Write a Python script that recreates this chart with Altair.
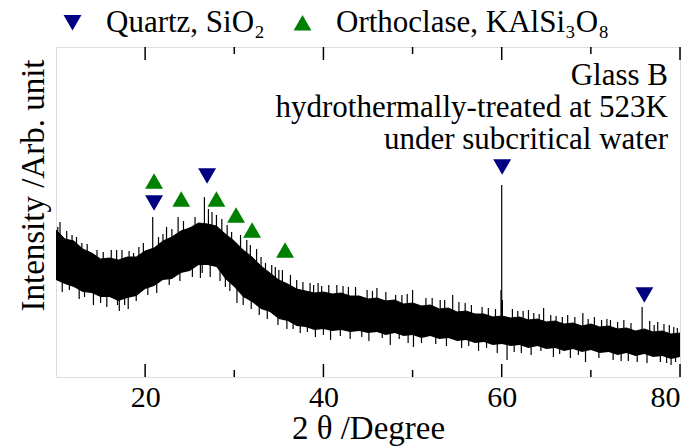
import altair as alt
import pandas as pd

FONT = "serif"

# ---- data (intensity in arbitrary units) ----
two_theta = [10, 11, 12, 13, 14, 15, 16, 17, 18, 19, 20, 21, 22, 23, 24, 25, 26, 27, 28, 29,
             30, 31, 32, 33, 34, 35, 36, 37, 38, 39, 40, 41, 42, 43, 44, 45, 46, 47, 48, 49,
             50, 51, 52, 53, 54, 55, 56, 57, 58, 59, 60, 61, 62, 63, 64, 65, 66, 67, 68, 69,
             70, 71, 72, 73, 74, 75, 76, 77, 78, 79, 80]
band_upper = [147, 138, 136, 128, 124, 118, 119, 117, 120, 120, 126, 129, 136, 140, 146, 149, 154, 153, 151, 143,
              136, 127, 120, 111, 104, 97, 93, 88, 86, 84, 85, 83, 84, 81, 81, 78, 79, 76, 77, 73,
              74, 71, 72, 68, 69, 65, 66, 63, 63, 60, 61, 59, 60, 57, 58, 55, 56, 53, 54, 51,
              53, 50, 51, 48, 49, 46, 48, 45, 46, 43, 44]
band_lower = [97, 93, 90, 85, 84, 80, 80, 76, 79, 81, 88, 91, 97, 98, 104, 106, 112, 112, 110, 98,
              90, 80, 75, 68, 65, 58, 56, 51, 50, 47, 48, 46, 47, 45, 46, 44, 45, 42, 44, 41,
              42, 39, 41, 38, 39, 36, 37, 34, 35, 32, 33, 31, 32, 29, 31, 28, 29, 26, 28, 25,
              27, 24, 25, 22, 24, 21, 23, 20, 21, 18, 20]

# spikes sticking out above the band: position, foot, tip
up_x = [10.2, 10.45, 11.2, 11.8, 12.3, 12.9, 13.5, 14.6, 15.3, 16.2, 16.8, 17.4, 18.2, 18.7, 19.3, 19.8,
        20.85, 21.5, 22.0, 22.4, 23.0, 23.7, 24.3, 25.05, 25.6, 26.65, 27.1, 27.5, 28.0, 28.6, 29.2, 29.7,
        30.7, 31.4, 31.8, 32.5, 33.0, 33.5, 34.2, 34.6, 35.0, 35.4, 36.3, 37.0, 37.7, 38.5, 38.9, 39.4, 39.8,
        40.6, 41.5, 42.2, 42.8, 43.6, 44.9, 45.5, 46.0, 47.0, 48.1, 48.8, 49.4, 50.0, 51.5, 52.2, 53.1, 53.6,
        54.5, 55.2, 55.9, 56.6, 57.8, 58.5, 59.3, 59.92, 60.0, 60.08, 61.2, 61.8, 62.4, 63.0, 63.6, 64.2, 64.7,
        65.5, 66.1, 66.8, 67.4, 68.2, 69.1, 69.7, 70.4, 71.2, 71.8, 72.2, 73.0, 73.7, 74.5, 75.75, 76.6, 77.1,
        77.5, 78.2, 78.8, 79.3, 79.7]
up_foot = [115, 120, 112, 115, 108, 110, 104, 100, 98, 98, 95, 95, 98, 95, 100, 104,
           100, 110, 113, 115, 118, 120, 125, 125, 130, 130, 132, 130, 130, 125, 120, 110,
           105, 100, 95, 95, 90, 85, 85, 80, 75, 75, 72, 70, 68, 65, 65, 65, 65,
           64, 65, 64, 63, 62, 62, 61, 60, 58, 58, 57, 57, 56, 55, 54, 54, 53,
           52, 50, 50, 49, 47, 46, 45, 40, 40, 40, 44, 45, 43, 44, 42, 42, 43,
           40, 40, 39, 40, 38, 38, 37, 37, 36, 36, 36, 35, 35, 34, 34, 33, 33,
           33, 32, 31, 31, 31]
up_tip = [150, 155, 146, 142, 140, 134, 133, 127, 125, 127, 127, 127, 126, 124, 130, 134,
          160, 140, 143, 150, 148, 160, 156, 150, 160, 180, 168, 165, 162, 158, 152, 145,
          142, 137, 132, 128, 120, 114, 112, 110, 107, 107, 102, 97, 95, 94, 92, 94, 91,
          92, 92, 91, 90, 90, 87, 86, 89, 85, 82, 82, 83, 87, 79, 79, 77, 77,
          82, 75, 74, 72, 70, 69, 68, 87, 192, 77, 68, 66, 66, 67, 64, 63, 69,
          62, 61, 60, 62, 60, 64, 58, 60, 57, 58, 57, 55, 57, 54, 70, 56, 52,
          55, 53, 52, 50, 49]

# spikes reaching below the band: position, tip, foot
down_x = [10.7, 11.5, 12.6, 13.2, 14.2, 15.0, 15.7, 16.9, 17.1, 17.7, 18.1, 19.0, 20.3, 21.3, 22.7, 23.9,
          25.3, 26.2, 26.4, 27.3, 28.4, 29.0, 29.5, 30.3, 31.0, 31.9, 32.8, 33.7, 34.9, 35.9, 36.6, 37.4,
          38.2, 39.1, 40.0, 40.8, 41.9, 43.0, 44.3, 45.1, 46.6, 47.5, 48.5, 49.5, 50.1, 51.0, 52.6, 53.8,
          55.5, 56.3, 57.4, 58.3, 59.5, 60.6, 61.4, 62.2, 63.3, 64.4, 65.8, 66.5, 67.7, 68.6, 69.4, 70.9,
          72.5, 73.4, 74.2, 75.2, 76.3, 77.8, 78.5, 79.0, 79.5]
down_tip = [85, 87, 78, 80, 72, 74, 70, 72, 66, 72, 68, 76, 82, 84, 92, 96,
            100, 99, 104, 100, 96, 90, 86, 74, 72, 68, 62, 58, 52, 48, 48, 44,
            45, 40, 42, 37, 41, 38, 40, 36, 39, 32, 38, 34, 30, 34, 33, 31,
            29, 31, 26, 29, 24, 17, 25, 24, 22, 26, 20, 23, 19, 22, 15, 19,
            17, 16, 16, 15, 14, 15, 14, 12, 15]
down_foot = [115, 112, 108, 104, 100, 98, 100, 97, 96, 98, 98, 100, 105, 110, 115, 120,
             125, 130, 130, 130, 128, 120, 115, 110, 100, 95, 90, 85, 80, 75, 72, 70,
             68, 65, 65, 64, 64, 63, 62, 61, 60, 60, 58, 57, 56, 55, 54, 53,
             50, 50, 48, 47, 46, 45, 45, 44, 43, 42, 40, 40, 39, 38, 37, 37,
             36, 35, 34, 34, 33, 33, 32, 31, 31]

quartz_x = [21.0, 26.95, 60.05, 76.0]
quartz_y = [174, 201, 210, 82]
orthoclase_x = [21.0, 24.05, 28.0, 30.2, 32.0, 35.7]
orthoclase_y = [196, 178, 178, 162, 147, 127]

quartz_label = "Quartz, SiO\u2082"
orthoclase_label = "Orthoclase, KAlSi\u2083O\u2088"

major_ticks = [20, 40, 60, 80]
minor_ticks = [30, 50, 70]

note_lines = ["Glass B", "hydrothermally-treated at 523K", "under subcritical water"]

# ---- tables ----
band_df = pd.DataFrame({"x": two_theta, "hi": band_upper, "lo": band_lower})
spike_df = pd.DataFrame({
    "x": up_x + down_x,
    "lo": up_foot + down_tip,
    "hi": up_tip + down_foot,
})
marker_df = pd.DataFrame({
    "x": quartz_x + orthoclase_x,
    "y": quartz_y + orthoclase_y,
    "mineral": [quartz_label] * len(quartz_x) + [orthoclase_label] * len(orthoclase_x),
})
major_df = pd.DataFrame({"t": major_ticks})
minor_df = pd.DataFrame({"t": minor_ticks})

W, H = 624, 330
xscale = alt.Scale(domain=[10, 80], nice=False, zero=False)
yscale = alt.Scale(domain=[0, 330], nice=False, zero=False)

x_axis = alt.Axis(
    values=major_ticks, format="d", ticks=False, domain=False, grid=False,
    labelFont=FONT, labelFontSize=30, labelColor="black", labelPadding=5,
    title="2 \u03b8 /Degree", titleFont=FONT, titleFontSize=33, titleFontWeight="normal",
    titleColor="black", titlePadding=0)
y_axis = alt.Axis(
    labels=False, ticks=False, domain=False, grid=False,
    title="Intensity /Arb. unit", titleFont=FONT, titleFontSize=33, titleFontWeight="normal",
    titleColor="black", titlePadding=6, titleY=138)

band = alt.Chart(band_df).mark_area(color="black", opacity=1, line={"color": "black", "strokeWidth": 1}).encode(
    x=alt.X("x:Q", scale=xscale, axis=x_axis),
    y=alt.Y("hi:Q", scale=yscale, axis=y_axis),
    y2="lo:Q",
)

spikes = alt.Chart(spike_df).mark_rule(color="black", strokeWidth=1.2).encode(
    x=alt.X("x:Q", scale=xscale, axis=x_axis),
    y=alt.Y("lo:Q", scale=yscale, axis=y_axis),
    y2="hi:Q",
)

def ticks(df, length):
    bottom = alt.Chart(df).mark_rule(color="black", strokeWidth=1.5).encode(
        x=alt.X("t:Q", scale=xscale, axis=x_axis), y=alt.value(H), y2=alt.value(H - length))
    top = alt.Chart(df).mark_rule(color="black", strokeWidth=1.5).encode(
        x=alt.X("t:Q", scale=xscale, axis=x_axis), y=alt.value(0), y2=alt.value(length))
    return [bottom, top]

legend = alt.Legend(
    orient="none", legendX=1, legendY=-40, direction="horizontal", title=None,
    labelFont=FONT, labelFontSize=31, labelColor="black", labelLimit=500,
    symbolSize=320, symbolStrokeWidth=0, symbolOpacity=1, labelOffset=18,
    columnPadding=22, padding=0,
)
markers = alt.Chart(marker_df).mark_point(filled=True, size=320, opacity=1, strokeWidth=0).encode(
    x=alt.X("x:Q", scale=xscale, axis=x_axis),
    y=alt.Y("y:Q", scale=yscale, axis=y_axis),
    color=alt.Color("mineral:N", scale=alt.Scale(domain=[quartz_label, orthoclase_label],
                                                   range=["#000080", "#008000"]), legend=legend),
    shape=alt.Shape("mineral:N", scale=alt.Scale(domain=[quartz_label, orthoclase_label],
                                                   range=["triangle-down", "triangle-up"]), legend=legend),
)

note = alt.Chart(pd.DataFrame({"k": [0]})).mark_text(
    text=note_lines, align="right", baseline="alphabetic", font=FONT, fontSize=31,
    lineHeight=32, color="black",
).encode(x=alt.value(W - 12), y=alt.value(38))

chart = alt.layer(
    band, spikes, *ticks(major_df, 13), *ticks(minor_df, 7), markers, note
).properties(
    width=W, height=H,
    padding={"left": 56, "top": 47, "right": 20, "bottom": 70},
    autosize=alt.AutoSizeParams(type="none"),
).configure_view(stroke="black", strokeWidth=1.5).configure(background="white")

chart.save("out.html", embed_options={"renderer": "svg", "actions": False})
